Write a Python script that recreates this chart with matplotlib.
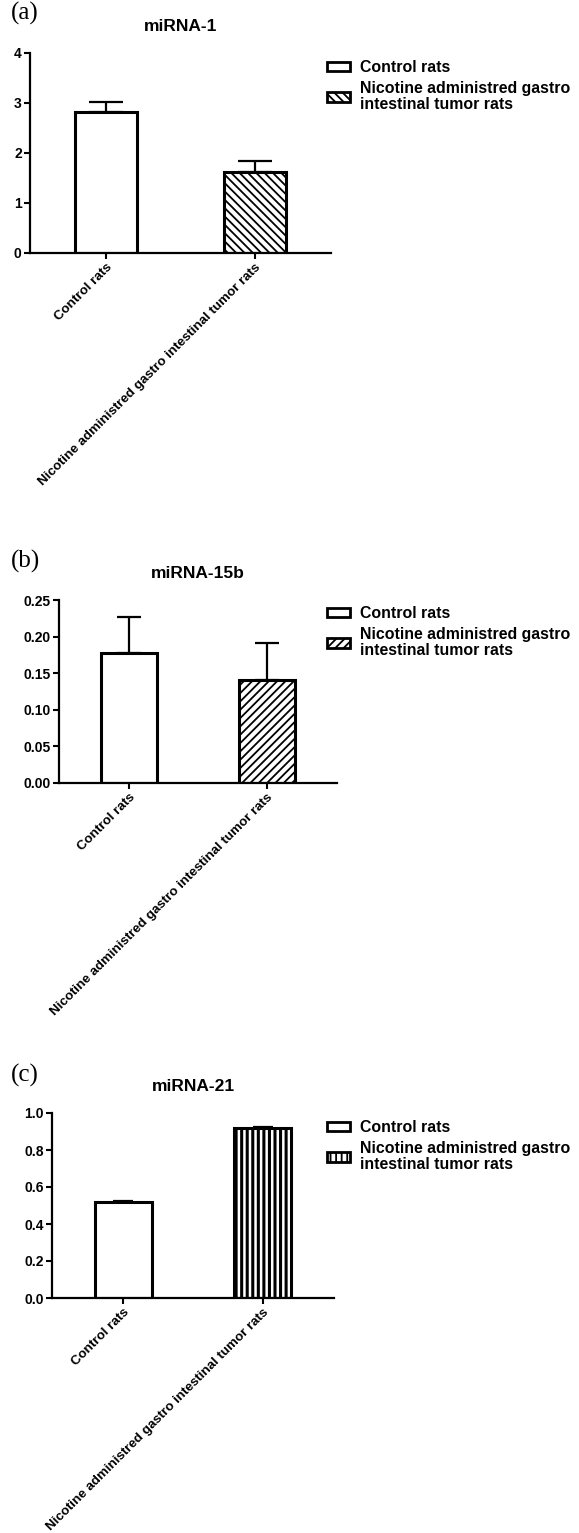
import numpy as np
import matplotlib
matplotlib.use('Agg')
import matplotlib.pyplot as plt
from matplotlib.patches import Patch
from matplotlib.ticker import FormatStrFormatter

# datos
categories = ['Control rats', 'Nicotine administred gastro intestinal tumor rats']
legend_labels = ['Control rats', 'Nicotine administred gastro\nintestinal tumor rats']

mirna1_mean = [2.82, 1.63]
mirna1_err = [0.21, 0.22]
mirna15b_mean = [0.178, 0.141]
mirna15b_err = [0.049, 0.050]
mirna21_mean = [0.519, 0.919]
mirna21_err = [0.008, 0.007]

titles = ['miRNA-1', 'miRNA-15b', 'miRNA-21']
letters = ['(a)', '(b)', '(c)']

plt.rcParams['font.family'] = ['Liberation Sans', 'DejaVu Sans']
plt.rcParams['font.weight'] = 'bold'
plt.rcParams['hatch.linewidth'] = 1.3
plt.rcParams['hatch.color'] = 'black'

W, H = 579, 1533
fig = plt.figure(figsize=(W / 100, H / 100), dpi=100)


def px_axes(left, right, top, bottom):
    # convierte pixeles a fracciones de figura
    return fig.add_axes([left / W, 1 - bottom / H, (right - left) / W, (bottom - top) / H])


panels = [
    dict(box=(30, 331, 53, 253), mean=mirna1_mean, err=mirna1_err, hatch='\\\\\\\\',
         hlw=1.3, cap=12, ylim=4, step=1, fmt='%d', letter_y=13, leg_top=60),
    dict(box=(59, 337, 600, 783), mean=mirna15b_mean, err=mirna15b_err, hatch='////',
         hlw=1.3, cap=8.5, ylim=0.25, step=0.05, fmt='%.2f', letter_y=561, leg_top=606),
    dict(box=(52, 334, 1113, 1298), mean=mirna21_mean, err=mirna21_err, hatch='|||',
         hlw=2.2, cap=7, ylim=1.0, step=0.2, fmt='%.1f', letter_y=1075, leg_top=1120),
]

x = np.arange(len(categories))
for i, pn in enumerate(panels):
    ax = px_axes(*pn['box'])
    hatches = ['', pn['hatch']]
    for j in range(len(categories)):
        b = ax.bar(x[j], pn['mean'][j], width=0.41, color='white', edgecolor='black',
                   linewidth=2.2, hatch=hatches[j], zorder=2)
        if hasattr(b[0], 'set_hatch_linewidth'):
            b[0].set_hatch_linewidth(pn['hlw'])
    ax.errorbar(x, pn['mean'], yerr=[np.zeros(len(x)), pn['err']], fmt='none',
                ecolor='black', elinewidth=1.6, capsize=pn['cap'], capthick=1.6, zorder=1)
    ax.set_xlim(-0.51, 1.51)
    ax.set_ylim(0, pn['ylim'])
    ax.set_yticks(np.arange(0, pn['ylim'] + pn['step'] / 2, pn['step']))
    ax.yaxis.set_major_formatter(FormatStrFormatter(pn['fmt']))
    ax.set_xticks(x)
    ax.set_xticklabels(categories, rotation=45, ha='right', rotation_mode='anchor',
                       fontsize=9.6, fontweight='bold')
    ax.tick_params(axis='y', labelsize=10)
    ax.tick_params(axis='both', width=1.5, length=4, pad=2)
    for s in ['top', 'right']:
        ax.spines[s].set_visible(False)
    for s in ['left', 'bottom']:
        ax.spines[s].set_linewidth(1.6)
    ax.set_title(titles[i], fontsize=12.5, fontweight='bold', pad=16)

    fig.text(11 / W, 1 - pn['letter_y'] / H, letters[i], fontsize=18,
             family='Liberation Serif', fontweight='normal', va='center', ha='left')

    handles = []
    for h in hatches:
        p = Patch(facecolor='white', edgecolor='black', linewidth=2.0, hatch=h)
        if hasattr(p, 'set_hatch_linewidth'):
            p.set_hatch_linewidth(pn['hlw'])
        handles.append(p)
    leg = ax.legend(handles, legend_labels, loc='upper left',
                    bbox_to_anchor=(327 / W, 1 - pn['leg_top'] / H), bbox_transform=fig.transFigure,
                    frameon=False, fontsize=11.4, handlelength=1.45, handleheight=0.55,
                    handletextpad=0.65, labelspacing=0.4, borderpad=0, borderaxespad=0)
    for t in leg.get_texts():
        t.set_linespacing(1.05)

fig.savefig('out.png', dpi=100)
